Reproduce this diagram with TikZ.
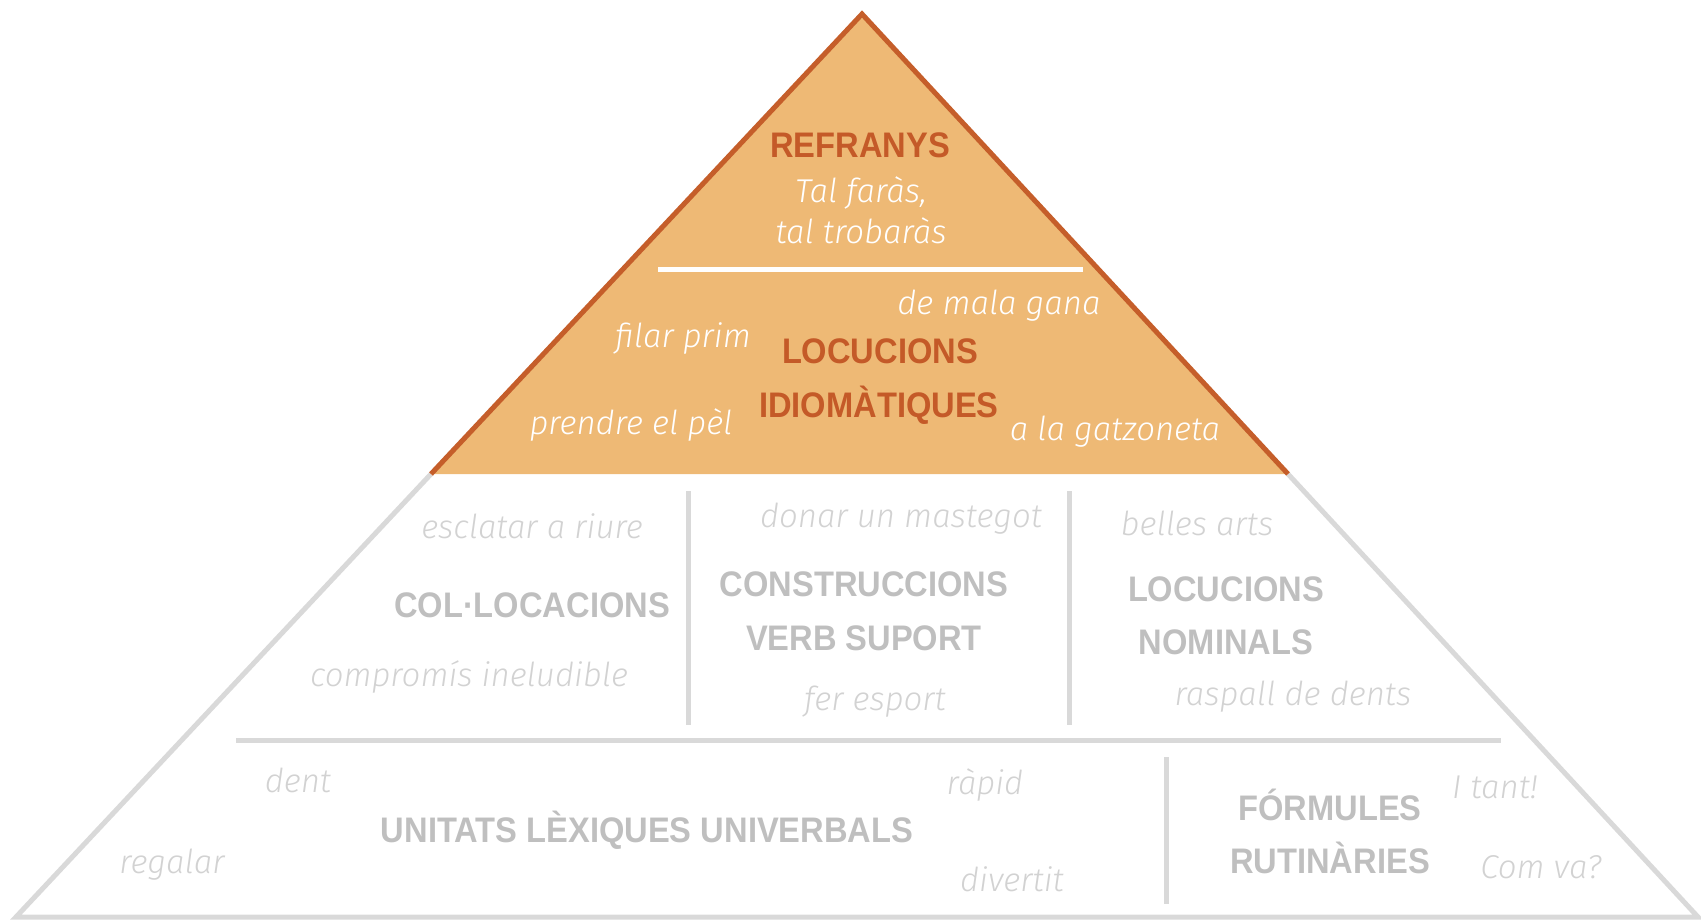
\documentclass[tikz,border=0pt]{standalone}
\usepackage{fontspec}
\newfontfamily\headfont{Liberation Sans}[FakeStretch=0.92]
\newfontfamily\exfont{Fira Sans}[ItalicFont={Fira Sans Light Italic}]
\definecolor{orfill}{RGB}{238,185,117}
\definecolor{orline}{RGB}{197,94,42}
\definecolor{ortext}{RGB}{196,90,40}
\definecolor{grline}{RGB}{217,217,217}
\definecolor{grhead}{RGB}{191,191,191}
\definecolor{grex}{RGB}{210,210,210}
\tikzset{
  head/.style={inner sep=0pt, anchor=base, font=\headfont\bfseries\fontsize{35.5bp}{42bp}\selectfont},
  orhead/.style={head, text=ortext},
  grhead/.style={head, text=grhead},
  ex/.style={inner sep=0pt, anchor=base, font=\exfont\itshape\fontsize{33bp}{40bp}\selectfont},
  orex/.style={ex, text=white},
  grex/.style={ex, text=grex},
  grstroke/.style={draw=grline, line width=5bp},
}
\begin{document}
\begin{tikzpicture}[x=1bp,y=-1bp]
\useasboundingbox (0,0) rectangle (1701,919);
\coordinate (A) at (862,14);
\coordinate (BL) at (16,917);
\coordinate (BR) at (1698,917);
\coordinate (OL) at (431,474);
\coordinate (OR) at (1288,474);
% gray lower part
\draw[grstroke, line join=miter] (OL) -- (BL) -- (BR) -- (OR);
% orange top
\fill[orfill] (A) -- (OL) -- (OR) -- cycle;
\draw[draw=orline, line width=5bp, line join=miter] (OL) -- (A) -- (OR);
% white separator
\coordinate (W1) at (658,269);
\coordinate (W2) at (1083,269);
\draw[draw=white, line width=5bp] (W1) -- (W2);
% gray dividers
\coordinate (H1) at (236,740);
\coordinate (H2) at (1501,740);
\draw[grstroke] (H1) -- (H2);
\coordinate (V1a) at (688,491);
\coordinate (V1b) at (688,725);
\coordinate (V2a) at (1069,491);
\coordinate (V2b) at (1069,725);
\coordinate (V3a) at (1166,757);
\coordinate (V3b) at (1166,904);
\draw[grstroke] (V1a) -- (V1b);
\draw[grstroke] (V2a) -- (V2b);
\draw[grstroke] (V3a) -- (V3b);
% orange texts
\node[orhead] (refr) at (860,157) {REFRANYS};
\node[orex] (tal1) at (861,202) {Tal faràs,};
\node[orex] (tal2) at (861,243) {tal trobaràs};
\node[orhead] (loc1) at (880,363) {LOCUCIONS};
\node[orhead] (loc2) at (879,417) {IDIOMÀTIQUES};
\node[orex] (filar) at (683,347) {filar prim};
\node[orex] (mala) at (999,314) {de mala gana};
\node[orex] (pel) at (631,434) {prendre el pèl};
\node[orex] (gatz) at (1115,440) {a la gatzoneta};
% gray texts
\node[grex] (escl) at (532,538) {esclatar a riure};
\node[grhead] (coll) at (532,617) {COL·LOCACIONS};
\node[grex] (comp) at (469,686) {compromís ineludible};
\node[grex] (donar) at (901,527) {donar un mastegot};
\node[grhead] (cons1) at (864,596) {CONSTRUCCIONS};
\node[grhead] (cons2) at (864,650) {VERB SUPORT};
\node[grex] (fer) at (875,710) {fer esport};
\node[grex] (belles) at (1197,535) {belles arts};
\node[grhead] (nom1) at (1226,601) {LOCUCIONS};
\node[grhead] (nom2) at (1226,654) {NOMINALS};
\node[grex] (rasp) at (1293,705) {raspall de dents};
\node[grex] (dent) at (298,792) {dent};
\node[grex] (reg) at (172,873) {regalar};
\node[grhead] (unit) at (647,842) {UNITATS LÈXIQUES UNIVERBALS};
\node[grex] (rapid) at (985,794) {ràpid};
\node[grex] (div) at (1012,891) {divertit};
\node[grhead] (form1) at (1330,820) {FÓRMULES};
\node[grhead] (form2) at (1330,873) {RUTINÀRIES};
\node[grex] (itant) at (1495,798) {I tant!};
\node[grex] (comva) at (1541,878) {Com va?};
\end{tikzpicture}
\end{document}
